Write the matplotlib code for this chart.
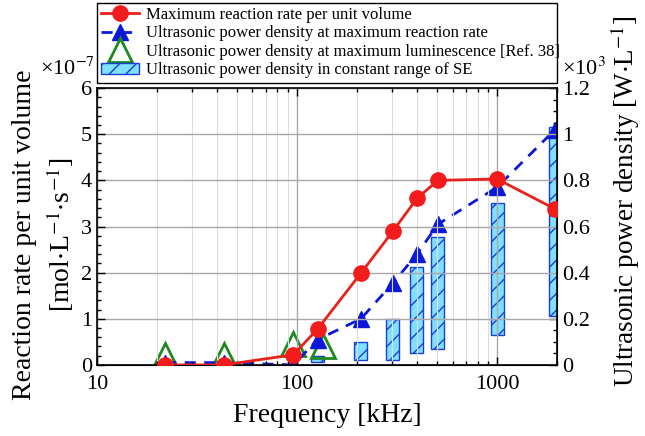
import numpy as np
import matplotlib
matplotlib.use('Agg')
import matplotlib.pyplot as plt
from matplotlib.ticker import MultipleLocator, LogLocator, NullFormatter, FixedLocator, FixedFormatter

plt.rcParams['font.family'] = ['Liberation Serif', 'DejaVu Serif']
plt.rcParams['mathtext.fontset'] = 'stix'
plt.rcParams['hatch.color'] = '#1a3fd6'
plt.rcParams['hatch.linewidth'] = 1.0

# reaction rate per unit volume (x1e-7 mol/L/s)
freq_rate = [22, 43, 96, 127, 209, 302, 398, 507, 1000, 1950]
rate = [0.0, 0.0, 0.22, 0.78, 1.99, 2.90, 3.61, 4.00, 4.03, 3.38]

# ultrasonic power density at max reaction rate (x1e3 W/L)
power_max = [0.01, 0.01, 0.0, 0.11, 0.20, 0.355, 0.48, 0.61, 0.77, 1.02]

# ultrasonic power density at max luminescence [Ref. 38]
freq_lum = [22, 43, 96, 135]
power_lum = [0.045, 0.045, 0.09, 0.08]

# constant range of SE (low, high)
freq_se = [127, 209, 302, 398, 507, 1000, 1950]
se_low = [0.013, 0.022, 0.02, 0.05, 0.07, 0.13, 0.21]
se_high = [0.039, 0.10, 0.20, 0.425, 0.555, 0.70, 1.03]

fig = plt.figure(figsize=(6.45, 4.36), dpi=100)
ax = fig.add_axes([0.150, 0.163, 0.714, 0.635])
ax2 = ax.twinx()

# bars in log space, constant width
half = 10 ** 0.0325
left = [f / half for f in freq_se]
width = [f * half - f / half for f in freq_se]
heights = [h - l for h, l in zip(se_high, se_low)]
bars = ax2.bar(left, heights, width=width, bottom=se_low, align='edge',
               facecolor='#80e0ff', edgecolor='#1a3fd6', linewidth=1.0,
               hatch='//', zorder=2)

l_lum, = ax2.plot(freq_lum, power_lum, linestyle='none', marker='^', ms=17,
                  mfc='none', mec='#1e8a1e', mew=2, zorder=3)
l_pow, = ax2.plot(freq_rate, power_max, linestyle=(0, (4, 3)), color='#0b18d8',
                  lw=2, marker='^', ms=12, mfc='#0b18d8', mec='#0b18d8', zorder=4)
l_rate, = ax.plot(freq_rate, rate, linestyle='-', color='#e8211c', lw=2,
                  marker='o', ms=11, mfc='#f21c1c', mec='#f21c1c', zorder=5)

ax.set_zorder(ax2.get_zorder() + 1)
ax.patch.set_visible(False)

ax.set_xscale('log')
ax.set_xlim(10, 2000)
ax.set_ylim(0, 6)
ax2.set_ylim(0, 1.2)

ax.xaxis.set_major_locator(FixedLocator([10, 100, 1000]))
ax.xaxis.set_major_formatter(FixedFormatter(['10', '100', '1000']))
ax.xaxis.set_minor_locator(LogLocator(base=10, subs=np.arange(2, 10)))
ax.xaxis.set_minor_formatter(NullFormatter())
ax.yaxis.set_major_locator(MultipleLocator(1))
ax.yaxis.set_minor_locator(MultipleLocator(0.2))
ax2.yaxis.set_minor_locator(MultipleLocator(0.05))
ax2.set_yticks([0, 0.2, 0.4, 0.6, 0.8, 1.0, 1.2])
ax2.set_yticklabels(['0', '0.2', '0.4', '0.6', '0.8', '1', '1.2'])

ax.grid(True, which='major', axis='both', color='#a8a8a8', lw=1.0)
ax.grid(True, which='minor', axis='x', color='#dcdcdc', lw=0.8)

ax.tick_params(which='both', direction='in', top=True, right=False, labelsize=16)
ax.tick_params(which='major', length=6, width=1)
ax.tick_params(which='minor', length=3, width=1)
ax2.tick_params(which='both', direction='in', labelsize=16)
ax2.tick_params(which='major', length=6, width=1)
ax2.tick_params(which='minor', length=3, width=1)
ax.tick_params(axis='x', pad=7)
for sp in ax.spines.values():
    sp.set_linewidth(1.2)

ax.set_xlabel('Frequency [kHz]', fontsize=20, labelpad=7)
ax.set_ylabel('Reaction rate per unit volume\n[mol$\\cdot$L$^{-1}$$\\cdot$s$^{-1}$]',
              fontsize=20, linespacing=1.3)
ax.yaxis.set_label_coords(-0.045, 0.47)
ax2.set_ylabel('Ultrasonic power density [W$\\cdot$L$^{-1}$]', fontsize=19.5)
ax2.yaxis.set_label_coords(1.112, 0.59)

ax.text(-0.005, 1.03, '×10$^{-7}$', transform=ax.transAxes, ha='right', va='bottom', fontsize=16)
ax.text(1.01, 1.03, '×10$^{3}$', transform=ax.transAxes, ha='left', va='bottom', fontsize=16)

leg = ax.legend([l_rate, l_pow, l_lum, bars],
                ['Maximum reaction rate per unit volume',
                 'Ultrasonic power density at maximum reaction rate',
                 'Ultrasonic power density at maximum luminescence [Ref. 38]',
                 'Ultrasonic power density in constant range of SE'],
                loc='lower left', bbox_to_anchor=(0, 1.02, 1, 0.2), mode='expand',
                borderaxespad=0, fontsize=12, fancybox=False, edgecolor='black',
                framealpha=1, handlelength=2.3, handletextpad=0.4, labelspacing=0.15,
                borderpad=0.25, markerscale=1.0)
leg.get_frame().set_linewidth(1.0)

fig.savefig('out.png', dpi=100)
